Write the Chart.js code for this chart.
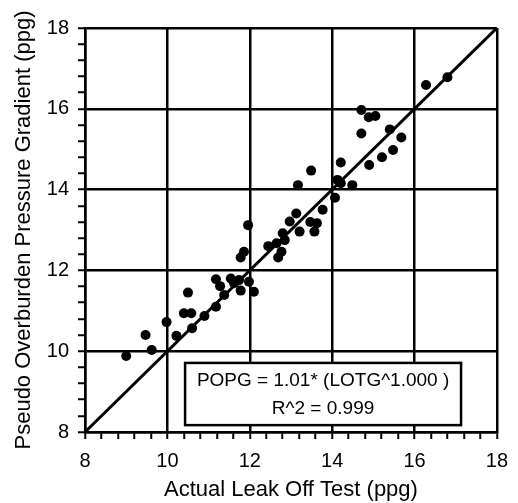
<!DOCTYPE html>
<html>
<head>
<meta charset="utf-8">
<script src="https://cdn.jsdelivr.net/npm/chart.js@4.4.1/dist/chart.umd.min.js"></script>
<style>
  html, body { margin: 0; padding: 0; background: #fff; }
  #wrap { width: 518px; height: 503px; }
</style>
</head>
<body>
<div id="wrap"><canvas id="leakChart" width="518" height="503"></canvas></div>
<script>
// actual leak off test vs pseudo overburden pressure gradient, both in ppg
const actualLOT = [
  9.00, 9.47, 9.62, 9.98, 10.22, 10.40, 10.58, 10.50, 10.60, 10.90,
  11.18, 11.38, 11.18, 11.28, 11.54, 11.62, 11.74, 11.78, 11.98, 12.10,
  11.78, 11.86, 11.96, 12.45, 12.65, 12.69, 12.77, 12.85, 12.80, 12.97,
  13.13, 13.21, 13.17, 13.47, 13.63, 13.57, 13.49, 13.77, 14.07, 14.13,
  14.21, 14.21, 14.49, 14.90, 15.21, 15.48, 15.68, 15.40, 14.71, 14.71,
  14.89, 15.05, 16.28, 16.80
];
const pseudoPOPG = [
  9.88, 10.40, 10.03, 10.72, 10.38, 10.94, 10.94, 11.45, 10.57, 10.87,
  11.10, 11.39, 11.78, 11.61, 11.80, 11.68, 11.76, 11.50, 11.72, 11.47,
  12.32, 12.46, 13.12, 12.60, 12.67, 12.32, 12.46, 12.75, 12.92, 13.21,
  13.41, 12.96, 14.11, 13.20, 13.17, 12.96, 14.47, 13.50, 13.80, 14.24,
  14.16, 14.67, 14.11, 14.61, 14.80, 14.98, 15.29, 15.49, 15.39, 15.97,
  15.79, 15.82, 16.59, 16.78
];
const fitX = [8, 18];
const fitY = [8, 18];
const majorTicks = [8, 10, 12, 14, 16, 18];
const fitLabels = ['POPG = 1.01* (LOTG^1.000 )', 'R^2 = 0.999'];

const FONT = '"Liberation Sans", Arial, Helvetica, sans-serif';

function isMajor(v) {
    return majorTicks.some(m => Math.abs(m - v) < 1e-6);
}

// white box with the fit equation, lower right of the plot
const fitBox = {
    id: 'fitBox',
    afterDatasetsDraw(chart) {
        const { ctx, scales: { x, y } } = chart;
        const left = x.getPixelForValue(10.43), right = x.getPixelForValue(17.13);
        const top = y.getPixelForValue(9.71), bottom = y.getPixelForValue(8.17);
        ctx.save();
        ctx.fillStyle = '#fff';
        ctx.fillRect(left, top, right - left, bottom - top);
        ctx.strokeStyle = '#000';
        ctx.lineWidth = 2.5;
        ctx.strokeRect(left, top, right - left, bottom - top);
        ctx.fillStyle = '#000';
        ctx.font = '19px ' + FONT;
        ctx.textAlign = 'center';
        ctx.textBaseline = 'middle';
        const cx = (left + right) / 2;
        ctx.fillText(fitLabels[0], cx, top + 18);
        ctx.fillText(fitLabels[1], cx, top + 46);
        ctx.restore();
    }
};

const axisCommon = {
    type: 'linear',
    min: 8,
    max: 18,
    ticks: {
        stepSize: 0.4,
        autoSkip: false,
        maxRotation: 0,
        color: '#000',
        font: { family: FONT, size: 20 },
        callback: v => isMajor(v) ? String(Math.round(v)) : ''
    },
    grid: {
        color: c => (c.tick && isMajor(c.tick.value)) ? '#000' : 'rgba(0,0,0,0)',
        lineWidth: 2.5,
        tickColor: '#000',
        tickWidth: 2,
        tickLength: 7
    },
    border: { display: true, color: '#000', width: 2.5 }
};

new Chart(document.getElementById('leakChart'), {
    type: 'scatter',
    data: {
        datasets: [
            {
                type: 'line',
                data: fitX.map((v, i) => ({ x: v, y: fitY[i] })),
                borderColor: '#000',
                borderWidth: 3,
                pointRadius: 0,
                fill: false
            },
            {
                data: actualLOT.map((v, i) => ({ x: v, y: pseudoPOPG[i] })),
                backgroundColor: '#000',
                borderWidth: 0,
                pointRadius: 5
            }
        ]
    },
    options: {
        responsive: false,
        devicePixelRatio: 1,
        animation: false,
        layout: { padding: { top: 28, right: 14, left: 0, bottom: 0 } },
        plugins: { legend: { display: false }, tooltip: { enabled: false } },
        scales: {
            x: {
                ...axisCommon,
                ticks: { ...axisCommon.ticks, padding: 10 },
                title: { display: true, text: 'Actual Leak Off Test (ppg)', color: '#000', font: { family: FONT, size: 22 }, padding: { top: 0, bottom: 0 } },
                afterFit(s) { s.height = 71; }
            },
            y: {
                ...axisCommon,
                ticks: { ...axisCommon.ticks, padding: 9 },
                title: { display: true, text: 'Pseudo Overburden Pressure Gradient (ppg)', color: '#000', font: { family: FONT, size: 22 }, padding: { top: 11, bottom: 0 } },
                afterFit(s) { s.width = 85; }
            }
        }
    },
    plugins: [fitBox]
});
</script>
</body>
</html>
